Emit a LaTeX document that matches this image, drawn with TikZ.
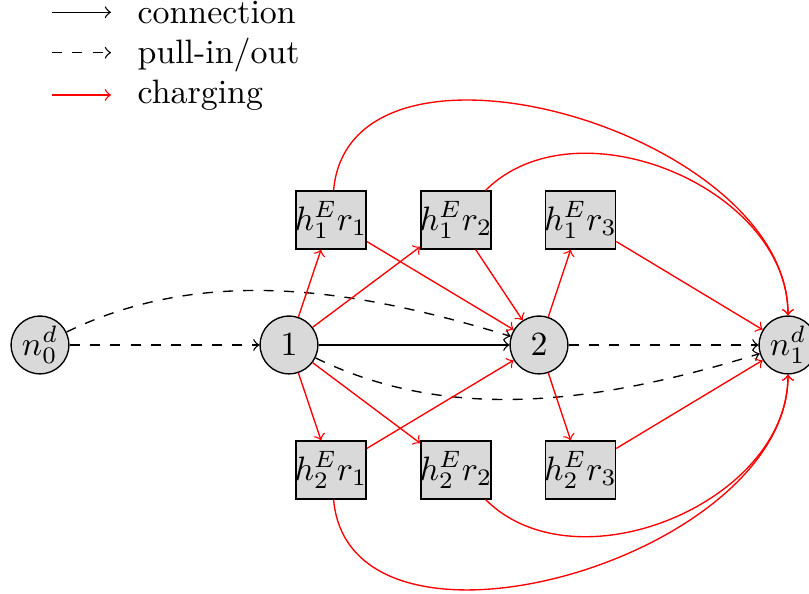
\documentclass[tikz,border=0pt]{standalone}
\begin{document}
\begin{tikzpicture}[x=0.2953pt,y=0.2953pt,
  vertex/.style={circle,draw,fill=gray!30,minimum size=0.6cm,inner sep=0pt},
  station/.style={rectangle,draw,fill=gray!30,minimum size=0.6cm,inner ysep=0pt,inner xsep=-0.4pt},
  conn/.style={->},
  pull/.style={->,dashed},
  charge/.style={->,red},
  legendtext/.style={anchor=base west,inner sep=0pt}]
\useasboundingbox (0,0) rectangle (809,594);

% legend
\coordinate (l1a) at (52,581.7);  \coordinate (l1b) at (111,581.7);
\coordinate (l2a) at (52,541.3);  \coordinate (l2b) at (111,541.3);
\coordinate (l3a) at (52,499);    \coordinate (l3b) at (111,499);
\draw[conn]   (l1a) -- (l1b);
\draw[pull]   (l2a) -- (l2b);
\draw[charge] (l3a) -- (l3b);
\node[legendtext] (t1) at (137,570.7) {connection};
\node[legendtext] (t2) at (137,530.7) {pull-in/out};
\node[legendtext] (t3) at (137,490.7) {charging};

% depots and stops
\node[vertex] (n0) at (40,249)  {$n_0^d$};
\node[vertex] (v1) at (289,249) {$1$};
\node[vertex] (v2) at (539,249) {$2$};
\node[vertex] (n1) at (788,249) {$n_1^d$};

% charging stations
\node[station] (a1) at (331,374)   {$h_1^E r_1$};
\node[station] (a2) at (456,374)   {$h_1^E r_2$};
\node[station] (a3) at (580.5,374) {$h_1^E r_3$};
\node[station] (b1) at (331,124)   {$h_2^E r_1$};
\node[station] (b2) at (456,124)   {$h_2^E r_2$};
\node[station] (b3) at (580.5,124) {$h_2^E r_3$};

% connection
\draw[conn] (v1) -- (v2);

% pull-in / pull-out
\draw[pull] (n0) -- (v1);
\draw[pull] (v2) -- (n1);
\draw[pull] (n0) to[out=26,in=163,looseness=0.9] (v2);
\draw[pull] (v1) to[out=-26,in=-163,looseness=0.9] (n1);

% charging
\draw[charge] (v1) -- (a1);
\draw[charge] (v1) -- (a2);
\draw[charge] (v1) -- (b1);
\draw[charge] (v1) -- (b2);
\draw[charge] (a1) -- (v2);
\draw[charge] (a2) -- (v2);
\draw[charge] (b1) -- (v2);
\draw[charge] (v2) -- (a3);
\draw[charge] (v2) -- (b3);
\draw[charge] (a3) -- (n1);
\draw[charge] (b3) -- (n1);
\draw[charge] (a1) to[out=85,in=90] (n1);
\draw[charge] (a2) to[out=45,in=90] (n1);
\draw[charge] (b1) to[out=-85,in=-90] (n1);
\draw[charge] (b2) to[out=-45,in=-90] (n1);
\end{tikzpicture}
\end{document}
